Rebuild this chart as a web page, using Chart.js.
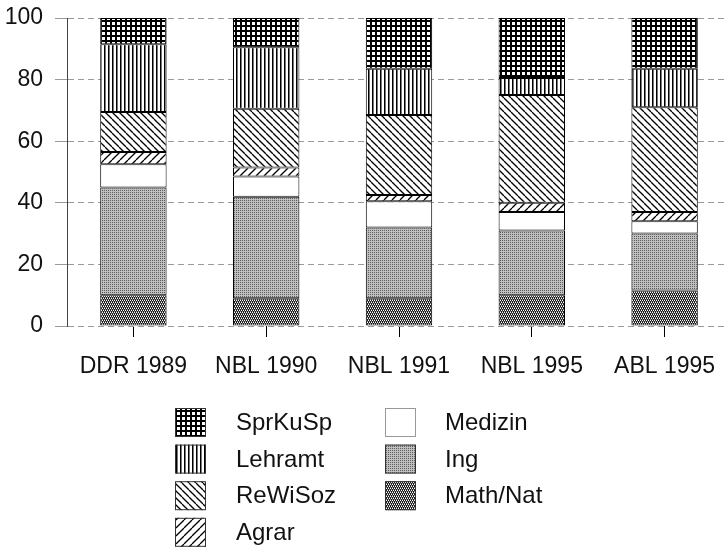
<!DOCTYPE html>
<html>
<head>
<meta charset="utf-8">
<script src="https://cdn.jsdelivr.net/npm/chart.js@4/dist/chart.umd.min.js"></script>
<style>
  html, body { margin: 0; padding: 0; background: #fff; overflow: hidden; width: 724px; height: 549px; }
  canvas { display: block; }
</style>
</head>
<body>
<canvas id="c" width="740" height="549"></canvas>
<script>
// ---- data ----
const categories = ["DDR 1989", "NBL 1990", "NBL 1991", "NBL 1995", "ABL 1995"];
const mathNat  = [10, 9, 9, 10, 11.5];
const ing      = [35, 33, 23, 21, 18.5];
const medizin  = [7.5, 6.5, 8.5, 6, 4];
const agrar    = [4, 3, 2, 3, 3];
const reWiSoz  = [13, 19, 26, 35, 34];
const lehramt  = [22, 20, 15, 5.5, 12.5];
const sprKuSp  = [8.5, 9.5, 16.5, 19.5, 16.5];
const yTicks   = [0, 20, 40, 60, 80, 100];

// ---- patterns ----
function makePattern(w, h, draw) {
  const c = document.createElement('canvas');
  c.width = w; c.height = h;
  const g = c.getContext('2d');
  g.fillStyle = '#fff'; g.fillRect(0, 0, w, h);
  draw(g, w, h);
  return g.createPattern(c, 'repeat');
}
const pGrid = makePattern(5, 5, (g) => {
  g.fillStyle = '#000';
  g.fillRect(0, 0, 5, 2);
  g.fillRect(0, 0, 2, 5);
});
const pVert = makePattern(4, 4, (g) => {
  g.fillStyle = '#000';
  g.fillRect(0, 0, 1, 4);
  g.fillStyle = '#777';
  g.fillRect(1, 0, 1, 4);
});
function diag(size, back) {
  return makePattern(size, size, (g, w, h) => {
    g.strokeStyle = '#000'; g.lineWidth = 1.3;
    for (let o = -size; o <= size; o += size) {
      g.beginPath();
      if (back) { g.moveTo(o, 0); g.lineTo(o + size, size); }
      else { g.moveTo(o, size); g.lineTo(o + size, 0); }
      g.stroke();
    }
  });
}
const pBack = diag(7, true);
const pFwd = diag(8, false);
const pDots = makePattern(2, 2, (g) => {
  g.fillStyle = '#c0c0c0'; g.fillRect(0, 0, 2, 2);
  g.fillStyle = '#5a5a5a'; g.fillRect(0, 0, 1, 1);
});
const pDark = makePattern(4, 4, (g) => {
  g.fillStyle = '#1a1a1a'; g.fillRect(0, 0, 4, 4);
  g.fillStyle = '#fff';
  [[0,0],[2,0],[1,2],[3,2]].forEach(([x,y]) => g.fillRect(x, y, 1, 1));
  g.fillStyle = '#888';
  [[1,1],[3,1],[0,3],[2,3]].forEach(([x,y]) => g.fillRect(x, y, 1, 1));
});

const FONT = "'Liberation Sans', Arial, sans-serif";

const datasets = [
  { label: 'Math/Nat', data: mathNat, backgroundColor: pDark },
  { label: 'Ing', data: ing, backgroundColor: pDots },
  { label: 'Medizin', data: medizin, backgroundColor: '#ffffff' },
  { label: 'Agrar', data: agrar, backgroundColor: pFwd },
  { label: 'ReWiSoz', data: reWiSoz, backgroundColor: pBack },
  { label: 'Lehramt', data: lehramt, backgroundColor: pVert },
  { label: 'SprKuSp', data: sprKuSp, backgroundColor: pGrid },
].map(d => Object.assign(d, {
  borderColor: '#000', borderWidth: 1, borderSkipped: false,
  categoryPercentage: 1.0, barPercentage: 0.5
}));

// legend layout: two columns, column-major
const legendCols = [["SprKuSp", "Lehramt", "ReWiSoz", "Agrar"], ["Medizin", "Ing", "Math/Nat"]];

const legendPlugin = {
  id: 'customLegend',
  afterDraw(chart) {
    const ctx = chart.ctx;
    const boxX = [175, 385], textX = [236, 445];
    const rowTop = 408, pitch = 36.6, bw = 31, bh = 29;
    ctx.save();
    ctx.font = '24px ' + FONT;
    ctx.textBaseline = 'middle';
    ctx.textAlign = 'left';
    legendCols.forEach((col, ci) => {
      col.forEach((name, ri) => {
        const ds = chart.data.datasets.find(d => d.label === name);
        const y = rowTop + ri * pitch;
        ctx.fillStyle = ds.backgroundColor;
        ctx.fillRect(boxX[ci], y, bw, bh);
        ctx.strokeStyle = name === 'Medizin' ? '#999' : '#333';
        ctx.lineWidth = 1;
        ctx.strokeRect(boxX[ci] + 0.5, y + 0.5, bw - 1, bh - 1);
        ctx.fillStyle = '#111';
        ctx.fillText(name, textX[ci], y + bh / 2 + 1);
      });
    });
    ctx.restore();
  }
};

new Chart(document.getElementById('c'), {
  type: 'bar',
  data: { labels: categories, datasets },
  options: {
    responsive: false,
    animation: false,
    devicePixelRatio: 1,
    layout: { padding: { top: 18, right: 9, bottom: 0, left: 0 } },
    plugins: { legend: { display: false }, tooltip: { enabled: false } },
    scales: {
      x: {
        stacked: true,
        afterFit(scale) { scale.height = 223; },
        border: { display: false },
        grid: { display: true, drawOnChartArea: false, drawTicks: true, tickLength: 11, color: '#000', offset: false },
        ticks: { color: '#111', font: { family: FONT, size: 23 }, padding: 16, maxRotation: 0, autoSkip: false }
      },
      y: {
        stacked: true,
        min: 0, max: 100,
        afterFit(scale) { scale.width = 67; scale.paddingTop = 0; scale.paddingBottom = 0; },
        afterBuildTicks(scale) { scale.ticks = yTicks.map(v => ({ value: v })); },
        border: { display: true, color: '#444', width: 1, dash: [6, 4] },
        grid: { color: '#9a9a9a', lineWidth: 1, tickLength: 12 },
        ticks: { color: '#111', font: { family: FONT, size: 23, lineHeight: 0.6 }, padding: 12 }
      }
    }
  },
  plugins: [legendPlugin]
});
</script>
</body>
</html>
